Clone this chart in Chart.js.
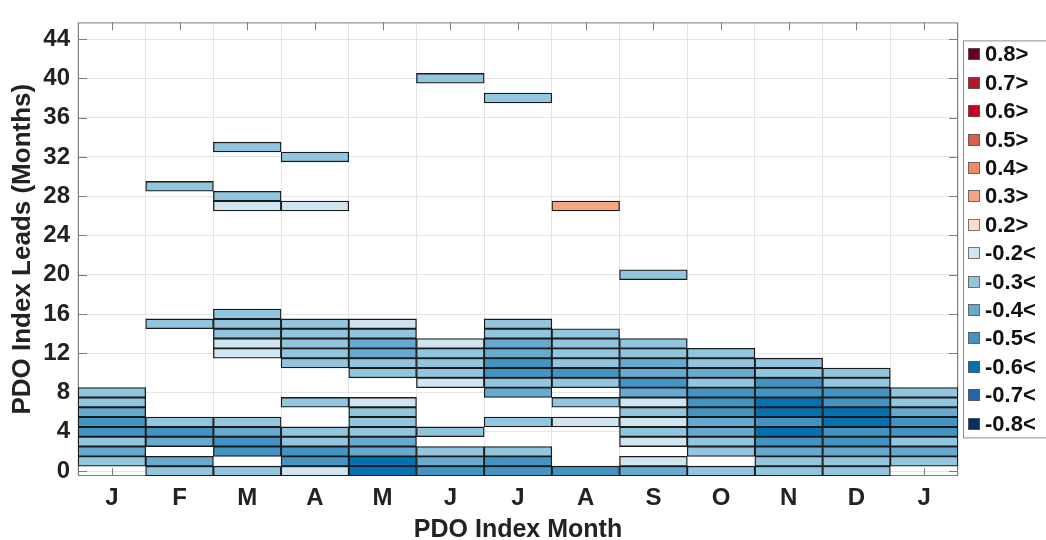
<!DOCTYPE html>
<html>
<head>
<meta charset="utf-8">
<script src="https://cdn.jsdelivr.net/npm/chart.js@4.4.1/dist/chart.umd.min.js"></script>
<style>
  html,body{margin:0;padding:0;background:#fff}
  #wrap{width:1046px;height:540px;position:relative}
</style>
</head>
<body>
<div id="wrap"><canvas id="c"></canvas></div>
<script>
// ---- data ----
const months = ['J','F','M','A','M','J','J','A','S','O','N','D','J'];
const leadTicks = [0,4,8,12,16,20,24,28,32,36,40,44];
const classValues = [0.8,0.7,0.6,0.5,0.4,0.3,0.2,-0.2,-0.3,-0.4,-0.5,-0.6,-0.7,-0.8];
const classLabels = ['0.8>','0.7>','0.6>','0.5>','0.4>','0.3>','0.2>','-0.2<','-0.3<','-0.4<','-0.5<','-0.6<','-0.7<','-0.8<'];
const classColors = ['#67001f','#b2182b','#ca0020','#d6604d','#ef8a62','#f4a582','#fddbc7',
                     '#d1e5f0','#92c5de','#67a9cf','#4393c3','#0571b0','#2166ac','#053061'];

// cells per PDO month: [lead (months), correlation class]
const colJan  = [[1,-0.3],[2,-0.4],[3,-0.3],[4,-0.5],[5,-0.5],[6,-0.4],[7,-0.3],[8,-0.3]];
const colFeb  = [[0,-0.3],[1,-0.4],[3,-0.4],[4,-0.5],[5,-0.3],[15,-0.3],[29,-0.3]];
const colMar  = [[0,-0.3],[2,-0.5],[3,-0.5],[4,-0.4],[5,-0.3],[12,-0.2],[13,-0.2],[14,-0.3],[15,-0.3],[16,-0.3],
                 [27,-0.2],[28,-0.3],[33,-0.3]];
const colApr  = [[0,-0.2],[1,-0.5],[2,-0.5],[3,-0.3],[4,-0.3],[7,-0.3],[11,-0.3],[12,-0.3],[13,-0.3],[14,-0.3],
                 [15,-0.3],[27,-0.2],[32,-0.3]];
const colMay  = [[0,-0.6],[1,-0.6],[2,-0.4],[3,-0.4],[4,-0.3],[5,-0.3],[6,-0.3],[7,-0.2],[10,-0.3],[11,-0.3],
                 [12,-0.4],[13,-0.4],[14,-0.3],[15,-0.2]];
const colJun  = [[0,-0.5],[1,-0.4],[2,-0.3],[4,-0.3],[9,-0.2],[10,-0.3],[11,-0.3],[12,-0.3],[13,-0.2],[40,-0.3]];
const colJul  = [[0,-0.5],[1,-0.5],[2,-0.3],[5,-0.3],[8,-0.4],[9,-0.3],[10,-0.5],[11,-0.5],[12,-0.4],[13,-0.4],
                 [14,-0.3],[15,-0.3],[38,-0.3]];
const colAug  = [[0,-0.5],[5,-0.2],[7,-0.3],[9,-0.3],[10,-0.5],[11,-0.3],[12,-0.3],[13,-0.3],[14,-0.3],[27,0.3]];
const colSep  = [[0,-0.4],[1,-0.2],[3,-0.2],[4,-0.3],[5,-0.2],[6,-0.3],[7,-0.2],[8,-0.4],[9,-0.5],[10,-0.4],
                 [11,-0.4],[12,-0.3],[13,-0.3],[20,-0.3]];
const colOct  = [[0,-0.3],[2,-0.3],[3,-0.3],[4,-0.4],[5,-0.4],[6,-0.5],[7,-0.5],[8,-0.5],[9,-0.3],[10,-0.4],
                 [11,-0.3],[12,-0.3]];
const colNov  = [[0,-0.3],[1,-0.3],[2,-0.4],[3,-0.5],[4,-0.6],[5,-0.5],[6,-0.6],[7,-0.6],[8,-0.5],[9,-0.5],
                 [10,-0.3],[11,-0.3]];
const colDec  = [[0,-0.3],[1,-0.3],[2,-0.4],[3,-0.5],[4,-0.5],[5,-0.6],[6,-0.6],[7,-0.5],[8,-0.5],[9,-0.3],[10,-0.3]];
const colJan2 = [[1,-0.3],[2,-0.4],[3,-0.3],[4,-0.5],[5,-0.5],[6,-0.4],[7,-0.3],[8,-0.3]];

const columns = [colJan,colFeb,colMar,colApr,colMay,colJun,colJul,colAug,colSep,colOct,colNov,colDec,colJan2];

// ---- build one floating-bar dataset per colour class ----
const FONT = '"Liberation Sans", Arial, sans-serif';
const datasets = classValues.map((cv, k) => {
  const data = [];
  columns.forEach((col, i) => col.forEach(([lead, v]) => {
    if (v === cv) data.push({x: i + 1, y: [lead - 0.5, lead + 0.5]});
  }));
  return {
    label: classLabels[k], data,
    backgroundColor: classColors[k], borderColor: '#1a1a1a', borderWidth: 1.3,
    borderSkipped: false, grouped: false, barPercentage: 1, categoryPercentage: 1
  };
});

// frame, inward ticks (below the cells) and the boxed legend
const deco = {
  id: 'deco',
  beforeDatasetsDraw(chart){
    const {ctx, chartArea: a, scales: {x, y}} = chart;
    ctx.save();
    ctx.strokeStyle = '#7d7d7d'; ctx.lineWidth = 1;
    ctx.strokeRect(a.left + 0.5, a.top + 0.5, a.right - a.left - 1, a.bottom - a.top - 1);
    ctx.beginPath();
    x.ticks.forEach(t => {
      const p = Math.round(x.getPixelForValue(t.value)) + 0.5;
      ctx.moveTo(p, a.bottom); ctx.lineTo(p, a.bottom - 8);
      ctx.moveTo(p, a.top);    ctx.lineTo(p, a.top + 8);
    });
    y.ticks.forEach(t => {
      const p = Math.round(y.getPixelForValue(t.value)) + 0.5;
      ctx.moveTo(a.left, p);  ctx.lineTo(a.left + 9, p);
      ctx.moveTo(a.right, p); ctx.lineTo(a.right - 9, p);
    });
    ctx.stroke();
    ctx.restore();
  },
  afterDraw(chart){
    const {ctx, chartArea: a} = chart;
    const lx = a.right + 5, ly = a.top + 18;
    ctx.save();
    ctx.fillStyle = '#fff';
    ctx.fillRect(lx, ly, 200, 397);
    ctx.strokeStyle = '#8c8c8c'; ctx.lineWidth = 1;
    ctx.strokeRect(lx + 0.5, ly + 0.5, 200, 397);
    ctx.font = 'bold 22px ' + FONT;
    ctx.textBaseline = 'middle';
    classLabels.forEach((lab, i) => {
      const cy = Math.round(ly + 14 + i * 28.4);
      ctx.fillStyle = classColors[i];
      ctx.fillRect(lx + 5, cy - 6, 12, 12);
      ctx.strokeStyle = '#5a5a5a'; ctx.lineWidth = 0.8;
      ctx.strokeRect(lx + 5.5, cy - 5.5, 11, 11);
      ctx.fillStyle = '#111';
      ctx.fillText(lab, lx + 22, cy + 1);
    });
    ctx.restore();
  }
};

new Chart(document.getElementById('c'), {
  type: 'bar',
  data: {datasets},
  plugins: [deco],
  options: {
    responsive: true, maintainAspectRatio: false, animation: false,
    layout: {padding: {top: 15, right: 88, left: 0, bottom: 0}},
    plugins: {legend: {display: false}, tooltip: {enabled: false}},
    scales: {
      x: {
        type: 'linear', min: 0.5, max: 13.5, offset: false,
        afterBuildTicks: s => { s.ticks = months.map((m, i) => ({value: i + 1})); },
        afterFit: s => { s.height = 64; },
        ticks: {autoSkip: false, maxRotation: 0, padding: 8, color: '#222',
                font: {family: FONT, size: 24, weight: 'bold'}, callback: v => months[v - 1]},
        grid: {color: '#e4e4e4', drawTicks: false},
        border: {display: false},
        title: {display: true, text: 'PDO Index Month', color: '#222', padding: {top: 0, bottom: -3},
                font: {family: FONT, size: 25, weight: 'bold', lineHeight: 1}}
      },
      y: {
        type: 'linear', min: -0.5, max: 45.7,
        afterBuildTicks: s => { s.ticks = leadTicks.map(v => ({value: v})); },
        afterFit: s => { s.width = 78; },
        ticks: {autoSkip: false, padding: 8, color: '#222',
                font: {family: FONT, size: 24, weight: 'bold'}},
        grid: {color: '#e4e4e4', drawTicks: false},
        border: {display: false},
        title: {display: true, text: 'PDO Index Leads (Months)', color: '#222', padding: {top: 10, bottom: 0},
                font: {family: FONT, size: 26, weight: 'bold', lineHeight: 1}}
      }
    }
  }
});
</script>
</body>
</html>
